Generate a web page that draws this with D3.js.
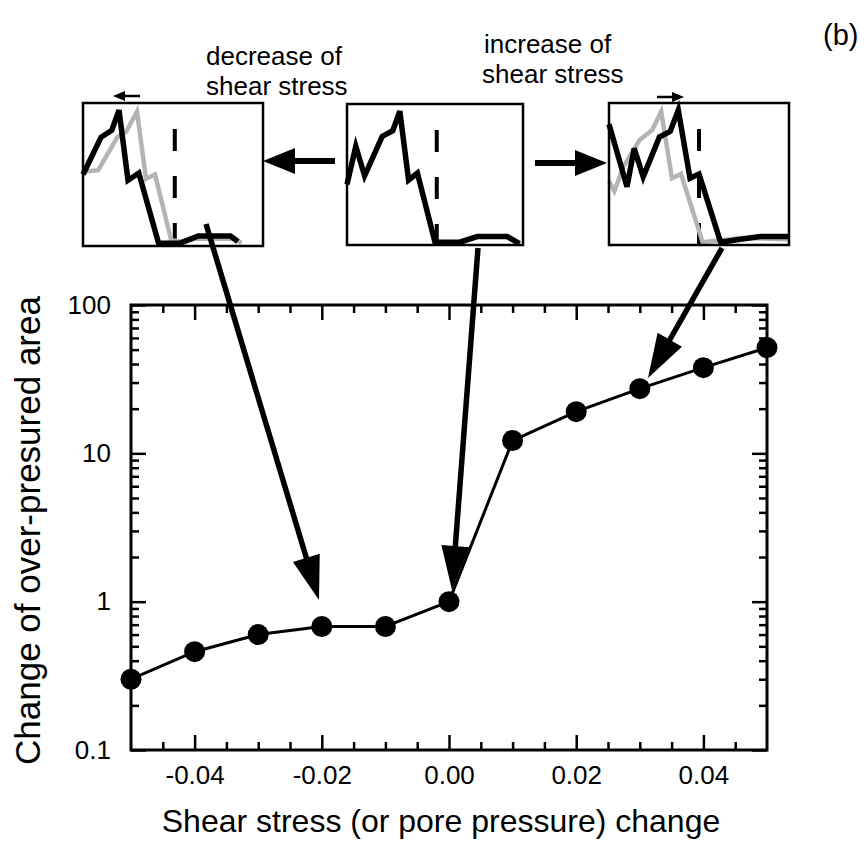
<!DOCTYPE html>
<html>
<head>
<meta charset="utf-8">
<script src="https://cdn.jsdelivr.net/npm/d3@7"></script>
<style>
  body { margin: 0; background: #fff; }
  svg { display: block; font-family: "Liberation Sans", Arial, Helvetica, sans-serif; }
</style>
</head>
<body>
<div id="chart"></div>
<script>
// main curve: shear stress change vs change of over-pressured area
const shearChange = [-0.05, -0.04, -0.03, -0.02, -0.01, 0.00, 0.01, 0.02, 0.03, 0.04, 0.05];
const areaChange = [0.30, 0.46, 0.60, 0.68, 0.68, 1.0, 12.2, 19.1, 27.3, 37.8, 51.6];

const xTickValues = [-0.04, -0.02, 0.00, 0.02, 0.04];
const xTickLabels = ["-0.04", "-0.02", "0.00", "0.02", "0.04"];
const yTickValues = [0.1, 1, 10, 100];
const yTickLabels = ["0.1", "1", "10", "100"];

// inset profiles, [position, height] both as fraction of the inset box
const profileLeftBlack = [[0, 0.50], [0.10, 0.76], [0.16, 0.81], [0.20, 0.95], [0.25, 0.46], [0.31, 0.51], [0.42, 0.02], [0.54, 0.02], [0.64, 0.07], [0.82, 0.07], [0.86, 0.03]];
const profileLeftGray = [[0, 0.52], [0.085, 0.53], [0.19, 0.76], [0.24, 0.80], [0.30, 0.94], [0.35, 0.47], [0.40, 0.50], [0.49, 0.04], [0.55, 0.03], [0.62, 0.05], [0.70, 0.05], [0.85, 0.05], [0.88, 0.02]];
const profileMidBlack = [[0, 0.43], [0.05, 0.70], [0.10, 0.49], [0.20, 0.77], [0.26, 0.81], [0.30, 0.95], [0.35, 0.46], [0.40, 0.51], [0.50, 0.02], [0.64, 0.02], [0.74, 0.06], [0.91, 0.06], [0.98, 0.01]];
const profileRightBlack = [[0, 0.85], [0.10, 0.41], [0.14, 0.68], [0.19, 0.48], [0.28, 0.76], [0.34, 0.80], [0.385, 0.95], [0.45, 0.47], [0.50, 0.50], [0.62, 0.02], [0.73, 0.04], [0.84, 0.06], [1.0, 0.06]];
const profileRightGray = [[0, 0.45], [0.03, 0.38], [0.08, 0.55], [0.17, 0.74], [0.24, 0.81], [0.29, 0.94], [0.35, 0.47], [0.40, 0.50], [0.52, 0.02], [0.73, 0.05], [1.0, 0.04]];
const thresholdPos = [0.51, 0.51, 0.50];

const width = 868;
const height = 841;
const plot = { left: 131, right: 767, top: 305, bottom: 750 };

const svg = d3.select('#chart')
    .append('svg')
    .attr('width', width)
    .attr('height', height);

svg.append('rect').attr('width', width).attr('height', height).attr('fill', '#fff');

// scales
const xScale = d3.scaleLinear()
    .domain([-0.05, 0.05])
    .range([plot.left, plot.right]);

const yScale = d3.scaleLog()
    .domain([0.1, 100])
    .range([plot.bottom, plot.top]);

const xMinor = d3.range(-0.045, 0.0451, 0.005).filter(v => !xTickValues.some(t => Math.abs(t - v) < 1e-6));
const yMinor = [];
[0.1, 1, 10].forEach(d => { for (let k = 2; k <= 9; k++) yMinor.push(d * k); });

const major = 15, minor = 8;
const noLabel = () => '';

function styleAxis(g) {
    g.select('.domain').remove();
    g.selectAll('line').attr('stroke', '#000').attr('stroke-width', 2.5);
    g.selectAll('text').attr('fill', '#000').attr('font-size', 26);
}

// bottom
svg.append('g').attr('transform', `translate(0,${plot.bottom})`)
    .call(d3.axisBottom(xScale).tickValues(xTickValues).tickSizeInner(-major).tickSizeOuter(0)
        .tickPadding(16).tickFormat((d, i) => xTickLabels[i]))
    .call(styleAxis);
svg.append('g').attr('transform', `translate(0,${plot.bottom})`)
    .call(d3.axisBottom(xScale).tickValues(xMinor).tickSizeInner(-minor).tickSizeOuter(0).tickFormat(noLabel))
    .call(styleAxis);
// top
svg.append('g').attr('transform', `translate(0,${plot.top})`)
    .call(d3.axisTop(xScale).tickValues(xTickValues).tickSizeInner(-major).tickSizeOuter(0).tickFormat(noLabel))
    .call(styleAxis);
svg.append('g').attr('transform', `translate(0,${plot.top})`)
    .call(d3.axisTop(xScale).tickValues(xMinor).tickSizeInner(-minor).tickSizeOuter(0).tickFormat(noLabel))
    .call(styleAxis);
// left
svg.append('g').attr('transform', `translate(${plot.left},0)`)
    .call(d3.axisLeft(yScale).tickValues(yTickValues).tickSizeInner(-major).tickSizeOuter(0)
        .tickPadding(20).tickFormat((d, i) => yTickLabels[i]))
    .call(styleAxis);
svg.append('g').attr('transform', `translate(${plot.left},0)`)
    .call(d3.axisLeft(yScale).tickValues(yMinor).tickSizeInner(-minor).tickSizeOuter(0).tickFormat(noLabel))
    .call(styleAxis);
// right
svg.append('g').attr('transform', `translate(${plot.right},0)`)
    .call(d3.axisRight(yScale).tickValues(yTickValues).tickSizeInner(-major).tickSizeOuter(0).tickFormat(noLabel))
    .call(styleAxis);
svg.append('g').attr('transform', `translate(${plot.right},0)`)
    .call(d3.axisRight(yScale).tickValues(yMinor).tickSizeInner(-minor).tickSizeOuter(0).tickFormat(noLabel))
    .call(styleAxis);

svg.append('rect')
    .attr('x', plot.left).attr('y', plot.top)
    .attr('width', plot.right - plot.left).attr('height', plot.bottom - plot.top)
    .attr('fill', 'none').attr('stroke', '#000').attr('stroke-width', 3);

// axis titles
svg.append('text')
    .attr('x', (plot.left + plot.right) / 2 - 8).attr('y', 832)
    .attr('text-anchor', 'middle').attr('font-size', 32)
    .text('Shear stress (or pore pressure) change');

svg.append('text')
    .attr('transform', `translate(40,${(plot.top + plot.bottom) / 2 + 3}) rotate(-90)`)
    .attr('text-anchor', 'middle').attr('font-size', 35)
    .text('Change of over-presured area');

// data line + points
const line = d3.line()
    .x((d, i) => xScale(shearChange[i]))
    .y(d => yScale(d));

svg.append('path')
    .datum(areaChange)
    .attr('d', line)
    .attr('fill', 'none').attr('stroke', '#000').attr('stroke-width', 3);

svg.selectAll('circle.dot')
    .data(areaChange)
    .enter()
    .append('circle')
    .attr('class', 'dot')
    .attr('cx', (d, i) => xScale(shearChange[i]))
    .attr('cy', d => yScale(d))
    .attr('r', 10.5)
    .attr('fill', '#000');

// insets
const insets = [
    { x: 83, y: 103, w: 180, h: 143, curves: [[profileLeftGray, 'gray'], [profileLeftBlack, 'black']], dash: thresholdPos[0] },
    { x: 347, y: 104, w: 176, h: 141, curves: [[profileMidBlack, 'black']], dash: thresholdPos[1] },
    { x: 609, y: 103, w: 180, h: 142, curves: [[profileRightGray, 'gray'], [profileRightBlack, 'black']], dash: thresholdPos[2] }
];

insets.forEach(ins => {
    const g = svg.append('g').attr('transform', `translate(${ins.x},${ins.y})`);
    const sx = d3.scaleLinear().domain([0, 1]).range([0, ins.w]);
    const sy = d3.scaleLinear().domain([0, 1]).range([ins.h, 0]);
    g.append('rect').attr('width', ins.w).attr('height', ins.h).attr('fill', '#fff');
    g.append('line')
        .attr('x1', sx(ins.dash)).attr('x2', sx(ins.dash))
        .attr('y1', 0).attr('y2', ins.h)
        .attr('stroke', '#000').attr('stroke-width', 4)
        .attr('stroke-dasharray', '22 25').attr('stroke-dashoffset', 21);
    const l = d3.line().x(d => sx(d[0])).y(d => sy(d[1]));
    ins.curves.forEach(([data, kind]) => {
        g.append('path')
            .datum(data)
            .attr('d', l)
            .attr('fill', 'none')
            .attr('stroke', kind === 'gray' ? '#b4b4b4' : '#000')
            .attr('stroke-width', kind === 'gray' ? 4.5 : 5.5)
            .attr('stroke-linejoin', 'miter');
    });
    g.append('rect').attr('width', ins.w).attr('height', ins.h)
        .attr('fill', 'none').attr('stroke', '#000').attr('stroke-width', 2.5);
});

// arrows
function arrow(x1, y1, x2, y2, w, headLen, headW) {
    const dx = x2 - x1, dy = y2 - y1;
    const len = Math.hypot(dx, dy);
    const ux = dx / len, uy = dy / len;
    const bx = x2 - ux * headLen, by = y2 - uy * headLen;
    svg.append('line')
        .attr('x1', x1).attr('y1', y1).attr('x2', bx + ux * 2).attr('y2', by + uy * 2)
        .attr('stroke', '#000').attr('stroke-width', w);
    svg.append('path')
        .attr('d', `M${x2},${y2}L${bx - uy * headW / 2},${by + ux * headW / 2}L${bx + uy * headW / 2},${by - ux * headW / 2}Z`)
        .attr('fill', '#000');
}

arrow(335, 161, 263, 161, 6, 32, 26);
arrow(535, 163, 607, 163, 6, 32, 26);
arrow(140, 96, 113, 96, 2.5, 12, 10);
arrow(657, 97, 684, 97, 2.5, 12, 10);

arrow(206, 224, 319, 600, 5.5, 44, 28);
arrow(478, 248, 452, 590, 5.5, 44, 28);
arrow(722, 248, 648, 378, 5.5, 44, 28);

// annotation text
const notes = [
    { x: 206, y: 65, t: 'decrease of' },
    { x: 206, y: 95, t: 'shear stress' },
    { x: 484, y: 53, t: 'increase of' },
    { x: 482, y: 83, t: 'shear stress' }
];
svg.selectAll('text.note')
    .data(notes)
    .enter()
    .append('text')
    .attr('class', 'note')
    .attr('x', d => d.x).attr('y', d => d.y)
    .attr('font-size', 26)
    .text(d => d.t);

svg.append('text')
    .attr('x', 823).attr('y', 45)
    .attr('font-size', 29)
    .text('(b)');
</script>
</body>
</html>
